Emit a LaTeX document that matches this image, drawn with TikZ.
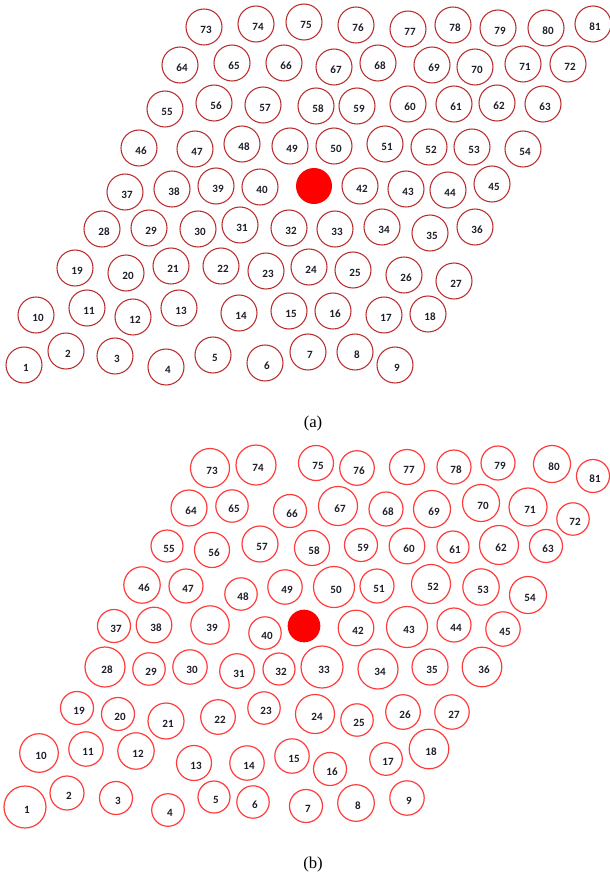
\documentclass[tikz,border=0pt]{standalone}
\usepackage{fontspec}
\setmainfont{Liberation Serif}
\newfontfamily\numfont{Carlito}
\definecolor{ringA}{RGB}{185,45,45}
\definecolor{ringB}{RGB}{255,60,60}
\definecolor{numcol}{RGB}{30,30,40}
\tikzset{
 ringa/.style={circle,draw=ringA,line width=0.8pt,inner sep=0pt,minimum size=27pt},
 ringb/.style={circle,draw=ringB,line width=0.9pt,inner sep=0pt},
 numa/.style={font=\numfont\bfseries\fontsize{8.3}{9}\selectfont,text=numcol,inner sep=0pt},
 numb/.style={font=\numfont\bfseries\fontsize{8.3}{9}\selectfont,text=numcol,inner sep=0pt},
 dot/.style={circle,fill=red,inner sep=0pt},
 capt/.style={font=\fontsize{12.5}{14}\selectfont,inner sep=0pt}
}
\begin{document}
\begin{tikzpicture}[x=0.75pt,y=-0.75pt]
\useasboundingbox (0,0) rectangle (610,882);
% panel (a)
\foreach \i/\x/\y in {1/24/365,2/66/351,3/115/356,4/166/367,5/213/355,6/265/363,7/308/352,8/355/352,9/395/365,
10/36/315,11/87/308,12/133/317,13/179/308,14/239/313,15/289/311,16/333/311,17/384/315,18/428/314,
19/75/268,20/126/273,21/171/266,22/221/266,23/266/271,24/309/267,25/353/270,26/404/275,27/454/281,
28/102/229,29/149/228,30/198/229,31/240/225,32/289/228,33/335/229,34/382/227,35/430/233,36/475/227,
37/125/192,38/172/189,39/216/186,40/260/187,42/360/186,43/406/189,44/448/190,45/492/184,
46/139/148,47/195/149,48/242/144,49/290/146,50/334/146,51/385/144,52/429/147,53/472/147,54/523/149,
55/165/109,56/214/103,57/263/105,58/316/106,59/357/106,60/408/104,61/454/104,62/497/103,63/543/104,
64/180/65,65/232/63,66/284/63,67/334/67,68/378/63,69/432/65,70/475/67,71/523/64,72/568/64,
73/204/27,74/256/24,75/304/22,76/356/25,77/408/29,78/453/25,79/498/28,80/546/28,81/593/24}{
 \node[ringa] (a\i) at (\x,\y) {};
 \node[numa] (ta\i) at (\x+2,\y+2.5) {\i};
}
\node[dot,minimum size=27pt] (a41) at (314,186) {};
\node[capt] (capa) at (313,423) {(a)};
% panel (b)
\foreach \i/\x/\y/\r in {1/25/807/21,2/67/793/17,3/116/798/16.5,4/168/810/16.3,5/214/797/16,6/253/802/16.2,7/306/806/16.5,8/356/803/18.3,9/407/798/17.2,
10/39/753/19.3,11/86/749/17.2,12/136/751/18.2,13/194/763/17.5,14/247/763/17.2,15/292/756/17.2,16/330/769/16.5,17/386/759/16.3,18/429/749/19.8,
19/77/708/16.5,20/118/714/16.5,21/166/721/18,22/218/717/17.3,23/264/708/16.2,24/315/714/19.5,25/357/720/16.2,26/403/712/17.3,27/452/712/17.2,
28/105/667/20,29/149/669/16.2,30/190/667/17.2,31/237/671/17.3,32/279/669/16,33/322/667/21,34/378/669/20,35/430/667/18,36/482/667/19.8,
37/114/626/16.5,38/154/625/17.8,39/210/625/19.2,40/265/633/16.2,42/356/628/17.8,43/407/627/20.5,44/454/625/17,45/503/629/17.2,
46/142/585/18.2,47/186/586/17,48/241/594/16.2,49/285/587/17.2,50/334/587/20.5,51/377/586/17,52/431/584/19.5,53/481/587/18.2,54/528/595/18.5,
55/167/546/16,56/212/550/17.5,57/260/544/18,58/312/548/17.5,59/361/545/16.5,60/407/546/17.8,61/453/547/16,62/499/545/19.5,63/546/546/16.5,
64/189/508/18,65/232/506/16.2,66/290/511/16.5,67/338/506/19.5,68/386/509/17,69/432/509/18.5,70/481/503/18.5,71/528/507/19,72/573/519/16.2,
73/210/468/19.5,74/256/465/20,75/316/463/17.5,76/357/468/17.3,77/407/467/17.5,78/454/467/17,79/498/463/17,80/552/464/18.5,81/593/476/16.5}{
 \node[ringb,minimum size={1.5pt*\r}] (b\i) at (\x,\y) {};
 \node[numb] (tb\i) at (\x+2,\y+2.5) {\i};
}
\node[dot,minimum size=24.5pt] (b41) at (304,626) {};
\node[capt] (capb) at (313,864) {(b)};
\end{tikzpicture}
\end{document}
